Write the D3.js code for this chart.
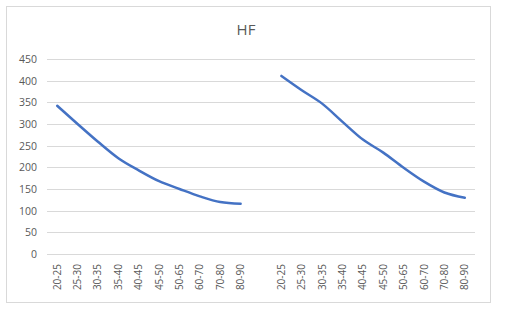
<!DOCTYPE html>
<html>
<head>
<meta charset="utf-8">
<script src="https://cdn.jsdelivr.net/npm/d3@7"></script>
<style>
  body { margin: 0; background: #fff; }
  svg text { font-family: "Open Sans", "Liberation Sans", sans-serif; fill: #595959; }
</style>
</head>
<body>
<svg id="chart" width="505" height="310"></svg>
<script>
// age groups, shown twice with an empty slot between
const ageGroups = ["20-25", "25-30", "30-35", "35-40", "40-45", "45-50", "50-65", "60-70", "70-80", "80-90"];
const firstValues = [342, 300, 259, 221, 193, 168, 150, 133, 120, 116];
const secondValues = [411, 378, 347, 305, 264, 234, 199, 167, 142, 130];
const yTicks = [0, 50, 100, 150, 200, 250, 300, 350, 400, 450];

const slots = [];
ageGroups.forEach((g, i) => slots.push({key: "a" + i, label: g}));
slots.push({key: "gap", label: ""});
ageGroups.forEach((g, i) => slots.push({key: "b" + i, label: g}));

const margin = {top: 59, right: 30, bottom: 56, left: 47};
const width = 505 - margin.left - margin.right;
const height = 310 - margin.top - margin.bottom;

const svg = d3.select("#chart");

// chart frame
svg.append("rect")
  .attr("x", 6.5).attr("y", 6.5)
  .attr("width", 484).attr("height", 296)
  .attr("fill", "#fff")
  .attr("stroke", "#d9d9d9");

svg.append("text")
  .attr("x", 246).attr("y", 35)
  .attr("text-anchor", "middle")
  .style("font-size", "15px")
  .text("HF");

const g = svg.append("g")
  .attr("transform", `translate(${margin.left},${margin.top})`);

const x = d3.scaleBand()
  .domain(slots.map(d => d.key))
  .range([0, width]);

const y = d3.scaleLinear()
  .domain([0, 450])
  .range([height, 0]);

// gridlines
g.append("g")
  .selectAll("line")
  .data(yTicks)
  .enter()
  .append("line")
  .attr("x1", 0).attr("x2", width)
  .attr("y1", d => Math.round(y(d)) + 0.5)
  .attr("y2", d => Math.round(y(d)) + 0.5)
  .attr("stroke", "#d9d9d9");

// y axis labels
const yAxis = g.append("g")
  .call(d3.axisLeft(y).tickValues(yTicks).tickSize(0).tickPadding(10));
yAxis.select(".domain").remove();
yAxis.selectAll("text").style("font-size", "10.5px").attr("fill", "#595959");

// x axis labels
const xAxis = g.append("g")
  .attr("transform", `translate(0,${height})`)
  .call(d3.axisBottom(x).tickSize(0).tickFormat(k => slots.find(s => s.key === k).label));
xAxis.select(".domain").remove();
xAxis.selectAll("text")
  .style("font-size", "10px")
  .attr("fill", "#595959")
  .attr("transform", "rotate(-90)")
  .attr("text-anchor", "end")
  .attr("x", -10)
  .attr("y", 0)
  .attr("dy", "0.35em");

const line = d3.line()
  .x(d => x(d.key) + x.bandwidth() / 2)
  .y(d => y(d.value))
  .curve(d3.curveMonotoneX);

const series = [
  firstValues.map((v, i) => ({key: "a" + i, value: v})),
  secondValues.map((v, i) => ({key: "b" + i, value: v}))
];

g.selectAll(".series")
  .data(series)
  .enter()
  .append("path")
  .attr("class", "series")
  .attr("d", line)
  .attr("fill", "none")
  .attr("stroke", "#4472c4")
  .attr("stroke-width", 2.5)
  .attr("stroke-linecap", "round");
</script>
</body>
</html>
